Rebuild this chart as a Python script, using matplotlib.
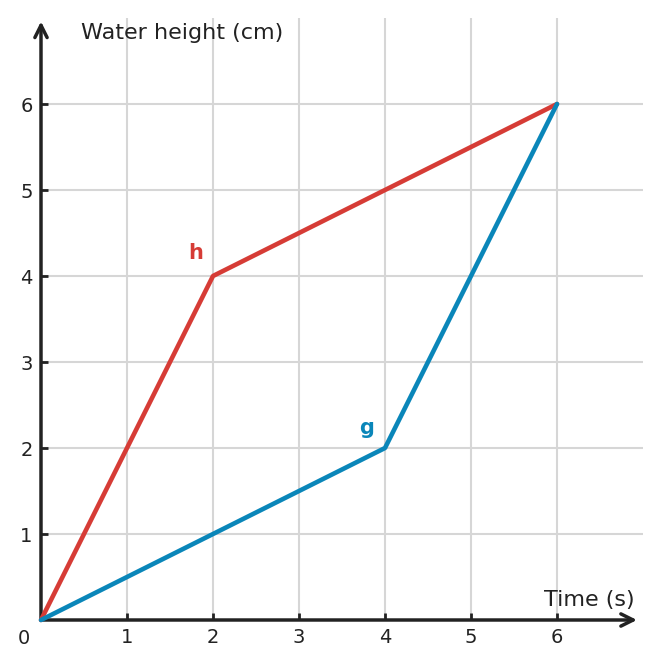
import matplotlib
matplotlib.use("Agg")
import matplotlib.pyplot as plt

h_x = [0, 2, 6]
h_y = [0, 4, 6]
g_x = [0, 4, 6]
g_y = [0, 2, 6]
x_ticks = [1, 2, 3, 4, 5, 6]
y_ticks = [1, 2, 3, 4, 5, 6]
x_label = "Time (s)"
y_label = "Water height (cm)"

RED = "#d63c36"
BLUE = "#0a86b9"
DARK = "#222222"

fig = plt.figure(figsize=(6.61, 6.68), dpi=100)
ax = fig.add_axes([41/661, 48/668, 602/661, 602/668])
ax.set_xlim(0, 7)
ax.set_ylim(0, 7)
for s in ax.spines.values():
    s.set_visible(False)

for v in x_ticks:
    ax.axvline(v, color="#d6d6d6", lw=1.5, zorder=0)
for v in y_ticks:
    ax.axhline(v, color="#d6d6d6", lw=1.5, zorder=0)

ax.set_xticks(x_ticks)
ax.set_yticks(y_ticks)
ax.tick_params(axis="both", direction="in", length=5, width=2, color=DARK,
               labelsize=14, labelcolor=DARK, pad=6)

ax.annotate("", xy=(6.93, 0), xytext=(0, 0), xycoords="data",
            arrowprops=dict(arrowstyle="->", lw=2.5, color=DARK,
                            mutation_scale=22, shrinkA=0, shrinkB=0),
            annotation_clip=False, zorder=3)
ax.annotate("", xy=(0, 6.96), xytext=(0, 0), xycoords="data",
            arrowprops=dict(arrowstyle="->", lw=2.5, color=DARK,
                            mutation_scale=22, shrinkA=0, shrinkB=0),
            annotation_clip=False, zorder=3)

ax.plot(h_x, h_y, color=RED, lw=3.3, zorder=4, solid_capstyle="round", clip_on=False)
ax.plot(g_x, g_y, color=BLUE, lw=3.3, zorder=4, solid_capstyle="round", clip_on=False)

ax.text(1.80, 4.27, "h", color=RED, fontsize=15, fontweight="bold", ha="center", va="center")
ax.text(3.79, 2.23, "g", color=BLUE, fontsize=15, fontweight="bold", ha="center", va="center")

ax.text(6.9, 0.12, x_label, fontsize=16, color=DARK, ha="right", va="bottom")
ax.text(0.47, 6.82, y_label, fontsize=16, color=DARK, ha="left", va="center")
ax.text(-0.2, -0.21, "0", fontsize=14, color=DARK, ha="center", va="center")

fig.savefig("out.png", dpi=100)
